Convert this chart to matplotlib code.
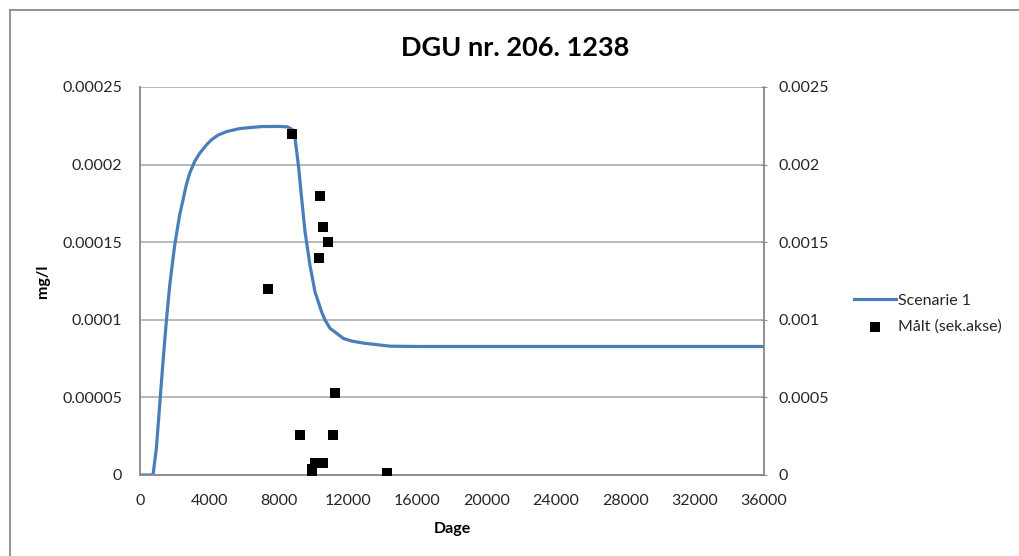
import matplotlib.pyplot as plt
from matplotlib.lines import Line2D

plt.rcParams['font.family'] = ['Lato', 'DejaVu Sans']

# Scenarie 1 (modelled concentration, mg/l)
dage = [0, 750, 942, 1135, 1327, 1519, 1712, 2000, 2288, 2673, 2865, 3154,
        3442, 3827, 4115, 4500, 4981, 5654, 6000, 7000, 8077, 8500, 8654,
        8846, 8942, 9135, 9327, 9519, 9808, 10096, 10481, 10673, 10962,
        11346, 11731, 12212, 12885, 14423, 16000, 20000, 24000, 28000,
        32000, 36000]
scenarie1 = [0, 0, 1.7e-5, 4.5e-5, 7.3e-5, 9.9e-5, 1.22e-4, 1.48e-4, 1.675e-4,
             1.87e-4, 1.944e-4, 2.02e-4, 2.073e-4, 2.126e-4, 2.159e-4,
             2.19e-4, 2.212e-4, 2.23e-4, 2.235e-4, 2.245e-4, 2.246e-4,
             2.243e-4, 2.235e-4, 2.22e-4, 2.17e-4, 2.0e-4, 1.78e-4, 1.57e-4,
             1.35e-4, 1.18e-4, 1.05e-4, 9.99e-5, 9.45e-5, 9.13e-5, 8.8e-5,
             8.63e-5, 8.5e-5, 8.3e-5, 8.28e-5, 8.28e-5, 8.28e-5, 8.28e-5,
             8.28e-5, 8.28e-5]

# Målt (secondary axis)
maalt_dage = [7368, 8753, 9213, 9904, 9930, 10100, 10310, 10404, 10560,
              10577, 10830, 11136, 11233, 14270]
maalt = [0.0012, 0.0022, 0.00026, 0.00001, 0.00004, 0.000075, 0.0014, 0.0018,
         0.0016, 0.00008, 0.0015, 0.00026, 0.00053, 0.00001]

xticks = list(range(0, 36001, 4000))
yticks_l = [0, 0.00005, 0.0001, 0.00015, 0.0002, 0.00025]
ylabels_l = ['0', '0.00005', '0.0001', '0.00015', '0.0002', '0.00025']
yticks_r = [0, 0.0005, 0.001, 0.0015, 0.002, 0.0025]
ylabels_r = ['0', '0.0005', '0.001', '0.0015', '0.002', '0.0025']

axis_grey = '#8c8c8c'
txt = '#262626'

fig = plt.figure(figsize=(10.19, 5.56), dpi=100)

# chart-area border (only left and top edges fall inside the image)
bx, by = 10 / 1019, 1 - 10 / 556
for xs, ys in (([bx, bx], [0.0, by]), ([bx, 1.0], [by, by])):
    fig.lines.append(Line2D(xs, ys, transform=fig.transFigure,
                            color='#8a8a8a', linewidth=1.3))

ax = fig.add_axes([140 / 1019, 1 - 475 / 556, 624 / 1019, 388 / 556])
ax2 = ax.twinx()

ax.plot(dage, scenarie1, color='#4a7ebb', linewidth=2.3, label='Scenarie 1',
        zorder=3, solid_joinstyle='round')
ax2.scatter(maalt_dage, maalt, marker='s', s=62, color='black', linewidths=0,
            label='Målt (sek.akse)', zorder=4)

ax.set_xlim(0, 36000)
ax.set_ylim(0, 0.00025)
ax2.set_ylim(0, 0.0025)

ax.set_xticks(xticks)
ax.set_xticklabels([str(v) for v in xticks], fontsize=11.5, color=txt)
ax.set_yticks(yticks_l)
ax.set_yticklabels(ylabels_l, fontsize=11.5, color=txt)
ax2.set_yticks(yticks_r)
ax2.set_yticklabels(ylabels_r, fontsize=11.5, color=txt)

ax.tick_params(axis='x', length=0, pad=14)
ax.tick_params(axis='y', length=0, pad=13)
ax2.tick_params(axis='y', length=5, direction='inout', color=axis_grey,
                pad=8)

ax.grid(axis='y', color='#a6a6a6', linewidth=1.1)
ax.set_axisbelow(True)
for a in (ax, ax2):
    a.spines['top'].set_visible(False)
    for s in ('left', 'bottom', 'right'):
        a.spines[s].set_color(axis_grey)
        a.spines[s].set_linewidth(1.1)

ax.set_xlabel('Dage', fontsize=11.5, fontweight='bold', color='black',
              labelpad=10)
ax.set_ylabel('mg/l', fontsize=11.5, fontweight='bold', color='black',
              labelpad=9)
fig.text(515 / 1019, 1 - 48 / 556, 'DGU nr. 206. 1238', fontsize=19.5,
         fontweight='bold', ha='center', va='center')

h1, l1 = ax.get_legend_handles_labels()
h2, l2 = ax2.get_legend_handles_labels()
fig.legend(h1 + h2, l1 + l2, loc='upper left',
           bbox_to_anchor=(840 / 1019, 1 - 279 / 556), frameon=False,
           fontsize=11.5, handlelength=2.6, handletextpad=0.1,
           labelspacing=0.75, labelcolor=txt)

fig.savefig('out.png', dpi=100)
